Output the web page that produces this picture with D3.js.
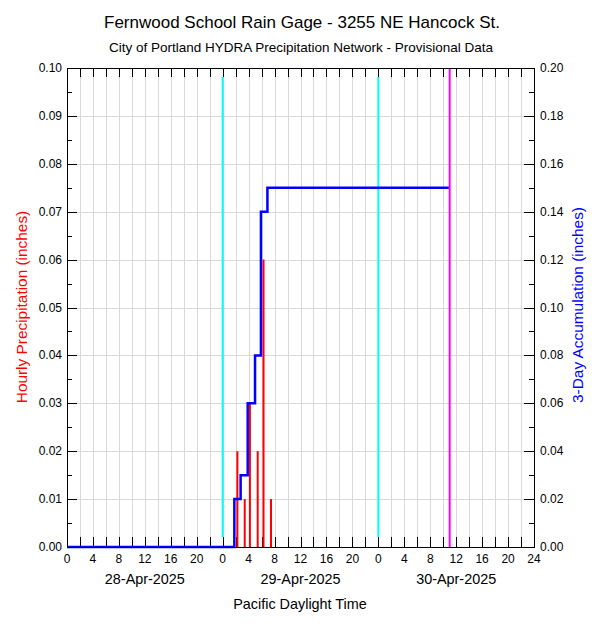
<!DOCTYPE html>
<html><head><meta charset="utf-8">
<script src="https://cdn.jsdelivr.net/npm/d3@7"></script>
<style>body{margin:0;background:#fff}text{font-family:"Liberation Sans",Arial,sans-serif}</style>
</head><body>
<svg id="c" width="600" height="625"></svg>
<script>
// Data (hours from 28-Apr-2025 00:00 PDT)
const barHours = [26.27, 27.4, 28.2, 29.4, 30.3, 31.45];
const barValues = [0.02, 0.01, 0.03, 0.02, 0.06, 0.01];
const accumHours = [0, 25.8, 26.77, 27.86, 28.99, 29.9, 30.9, 59];
const accumValues = [0, 0.02, 0.03, 0.06, 0.08, 0.14, 0.15, 0.15];
const midnightHours = [24, 48];
const nowHour = 59;
const dayLabels = ["28-Apr-2025", "29-Apr-2025", "30-Apr-2025"];
const xTickLabels = ["0","4","8","12","16","20","0","4","8","12","16","20","0","4","8","12","16","20","24"];
const leftTicks = [0,0.01,0.02,0.03,0.04,0.05,0.06,0.07,0.08,0.09,0.10];
const rightTicks = [0,0.02,0.04,0.06,0.08,0.10,0.12,0.14,0.16,0.18,0.20];

const svg = d3.select("#c");
const L = 67, R = 534, T = 68, B = 547;
const x = d3.scaleLinear().domain([0,72]).range([L,R]);
const yL = d3.scaleLinear().domain([0,0.1]).range([B,T]);
const yR = d3.scaleLinear().domain([0,0.2]).range([B,T]);

// grid
const g = svg.append("g").attr("stroke","#d9d9d9").attr("stroke-width",1);
d3.range(2,72,2).forEach(h=>g.append("line").attr("x1",Math.round(x(h))+0.5).attr("x2",Math.round(x(h))+0.5).attr("y1",T).attr("y2",B));
leftTicks.slice(1,-1).forEach(v=>g.append("line").attr("x1",L).attr("x2",R).attr("y1",Math.round(yL(v))+0.5).attr("y2",Math.round(yL(v))+0.5));

// ticks
const tk = svg.append("g").attr("stroke","#000").attr("stroke-width",1);
d3.range(2,72,2).forEach(h=>{
  const xx = Math.round(x(h))+0.5;
  tk.append("line").attr("x1",xx).attr("x2",xx).attr("y1",B).attr("y2",B-10);
  tk.append("line").attr("x1",xx).attr("x2",xx).attr("y1",T).attr("y2",T+9);
});
d3.range(0.005,0.1,0.005).forEach((v,i)=>{
  const yy = Math.round(yL(v))+0.5;
  const len = (i%2===0)?5:10;
  tk.append("line").attr("x1",L).attr("x2",L+len).attr("y1",yy).attr("y2",yy);
  tk.append("line").attr("x1",R).attr("x2",R-len).attr("y1",yy).attr("y2",yy);
});

// midnight lines
midnightHours.forEach(h=>svg.append("line").attr("x1",x(h)).attr("x2",x(h)).attr("y1",T+9).attr("y2",B-10).attr("stroke","#00ffff").attr("stroke-width",2));

// bars
svg.append("g").selectAll("line").data(barHours).join("line")
  .attr("x1",d=>x(d)).attr("x2",d=>x(d))
  .attr("y1",yL(0)).attr("y2",(d,i)=>yL(barValues[i]))
  .attr("stroke","#ff0000").attr("stroke-width",2);

// accumulation step line
const pts = accumHours.map((h,i)=>[h,accumValues[i]]);
svg.append("path").datum(pts)
  .attr("d", d3.line().x(d=>x(d[0])).y(d=>yR(d[1])).curve(d3.curveStepAfter))
  .attr("fill","none").attr("stroke","#0000ff").attr("stroke-width",2.5);

// now line
svg.append("line").attr("x1",x(nowHour)).attr("x2",x(nowHour)).attr("y1",T).attr("y2",B).attr("stroke","#ff00ff").attr("stroke-width",2);

// frame
svg.append("rect").attr("x",L+0.5).attr("y",T+0.5).attr("width",R-L).attr("height",B-T).attr("fill","none").attr("stroke","#000");

// tick labels
const tl = svg.append("g").attr("font-size",12).attr("fill","#000");
xTickLabels.forEach((s,i)=>tl.append("text").attr("x",x(i*4)).attr("y",B+16).attr("text-anchor","middle").text(s));
leftTicks.forEach(v=>tl.append("text").attr("x",L-5).attr("y",yL(v)+4).attr("text-anchor","end").text(v.toFixed(2)));
rightTicks.forEach(v=>tl.append("text").attr("x",R+6).attr("y",yR(v)+4).attr("text-anchor","start").text(v.toFixed(2)));
dayLabels.forEach((s,i)=>svg.append("text").attr("x",x(i*24+12)).attr("y",584).attr("text-anchor","middle").attr("font-size",14.4).text(s));

svg.append("text").attr("x",300).attr("y",609).attr("text-anchor","middle").attr("font-size",14.4).text("Pacific Daylight Time");
svg.append("text").attr("x",302).attr("y",28).attr("text-anchor","middle").attr("font-size",17).text("Fernwood School Rain Gage - 3255 NE Hancock St.");
svg.append("text").attr("x",301).attr("y",52).attr("text-anchor","middle").attr("font-size",13.5).text("City of Portland HYDRA Precipitation Network - Provisional Data");
svg.append("text").attr("transform","translate(27,307) rotate(-90)").attr("text-anchor","middle").attr("font-size",15.4).attr("fill","#ff0000").text("Hourly Precipitation (inches)");
svg.append("text").attr("transform","translate(583,305) rotate(-90)").attr("text-anchor","middle").attr("font-size",15.4).attr("fill","#0000ff").text("3-Day Accumulation (inches)");
</script>
</body></html>
